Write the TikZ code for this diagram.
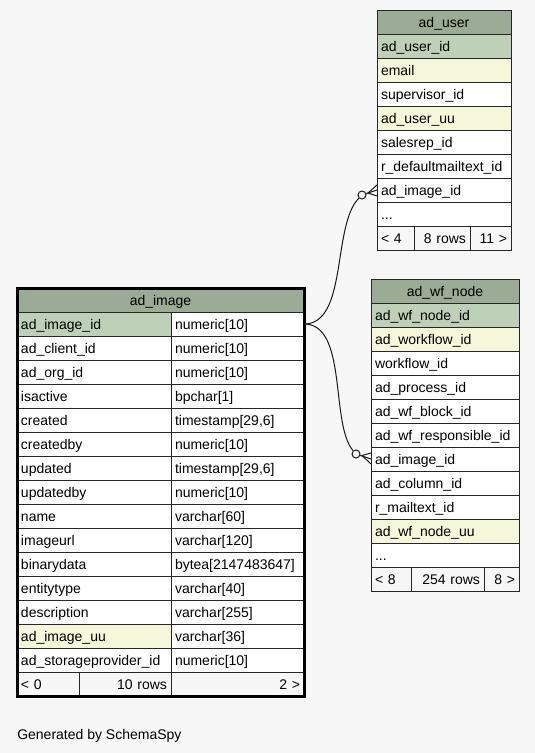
\documentclass[tikz,border=0pt]{standalone}
\usepackage{fontspec}
\setmainfont{Liberation Sans}
\usetikzlibrary{positioning, calc}

\definecolor{bgc}{HTML}{F7F7F7}
\definecolor{headc}{HTML}{9BAB96}
\definecolor{pkc}{HTML}{BED1B8}
\definecolor{idxc}{HTML}{F4F7DA}

\begin{document}
\begin{tikzpicture}[
        x=0.75pt, y=-0.75pt,
        font=\fontsize{10.5}{12}\selectfont,
        % Define Styles
        cell/.style={rectangle, draw=black!85, fill=white, line width=0.75pt, outer sep=0pt, inner xsep=3pt, inner ysep=0pt, minimum height=18pt, text height=9.5pt, text depth=2pt, align=left},
        head/.style={cell, fill=headc, align=center},
        pk/.style={cell, fill=pkc},
        idx/.style={cell, fill=idxc},
        foot/.style={cell, fill=bgc},
        ucol/.style={text width=94.5pt},
        wcol/.style={text width=105pt},
        kcol/.style={text width=109.5pt},
        tcol/.style={text width=93.75pt},
        link/.style={draw=black!90, line width=0.75pt},
        knob/.style={circle, draw=black!90, fill=bgc, line width=0.75pt, inner sep=0pt, minimum size=6pt}
    ]

    % --- CANVAS ---
    \fill[bgc] (0,0) rectangle (535,753);

    % --- AD_USER (top right) ---
    \node[head, ucol, anchor=north west] (uhead) at (377,10) {ad\_user};
    \node[pk, ucol, below=0pt of uhead] (uid) {ad\_user\_id};
    \node[idx, ucol, below=0pt of uid] (uemail) {email};
    \node[cell, ucol, below=0pt of uemail] (usup) {supervisor\_id};
    \node[idx, ucol, below=0pt of usup] (uuu) {ad\_user\_uu};
    \node[cell, ucol, below=0pt of uuu] (usales) {salesrep\_id};
    \node[cell, ucol, below=0pt of usales] (umail) {r\_defaultmailtext\_id};
    \node[cell, ucol, below=0pt of umail] (uimg) {ad\_image\_id};
    \node[cell, ucol, below=0pt of uimg] (umore) {...};
    \node[foot, text width=21.75pt, anchor=north west] (uf1) at (umore.south west) {< 4};
    \node[foot, text width=36pt, align=right, right=0pt of uf1] (uf2) {8 rows};
    \node[foot, text width=24.75pt, align=right, right=0pt of uf2] (uf3) {11 >};

    % --- AD_WF_NODE (right) ---
    \node[head, wcol, anchor=north west] (whead) at (371,279) {ad\_wf\_node};
    \node[pk, wcol, below=0pt of whead] (wid) {ad\_wf\_node\_id};
    \node[idx, wcol, below=0pt of wid] (wflow) {ad\_workflow\_id};
    \node[cell, wcol, below=0pt of wflow] (wwork) {workflow\_id};
    \node[cell, wcol, below=0pt of wwork] (wproc) {ad\_process\_id};
    \node[cell, wcol, below=0pt of wproc] (wblock) {ad\_wf\_block\_id};
    \node[cell, wcol, below=0pt of wblock] (wresp) {ad\_wf\_responsible\_id};
    \node[cell, wcol, below=0pt of wresp] (wimg) {ad\_image\_id};
    \node[cell, wcol, below=0pt of wimg] (wcol) {ad\_column\_id};
    \node[cell, wcol, below=0pt of wcol] (wmail) {r\_mailtext\_id};
    \node[idx, wcol, below=0pt of wmail] (wuu) {ad\_wf\_node\_uu};
    \node[cell, wcol, below=0pt of wuu] (wmore) {...};
    \node[foot, text width=24pt, anchor=north west] (wf1) at (wmore.south west) {< 8};
    \node[foot, text width=48.75pt, align=right, right=0pt of wf1] (wf2) {254 rows};
    \node[foot, text width=20.25pt, align=right, right=0pt of wf2] (wf3) {8 >};

    % --- AD_IMAGE (focus table, left) ---
    \node[head, text width=209.25pt, anchor=north west] (ihead) at (17,288) {ad\_image};
    \node[pk, kcol, anchor=north west] (iid) at (ihead.south west) {ad\_image\_id};
    \node[cell, tcol, right=0pt of iid] (iidt) {numeric[10]};
    \node[cell, kcol, below=0pt of iid] (iclient) {ad\_client\_id};
    \node[cell, tcol, right=0pt of iclient] (iclientt) {numeric[10]};
    \node[cell, kcol, below=0pt of iclient] (iorg) {ad\_org\_id};
    \node[cell, tcol, right=0pt of iorg] (iorgt) {numeric[10]};
    \node[cell, kcol, below=0pt of iorg] (iact) {isactive};
    \node[cell, tcol, right=0pt of iact] (iactt) {bpchar[1]};
    \node[cell, kcol, below=0pt of iact] (icr) {created};
    \node[cell, tcol, right=0pt of icr] (icrt) {timestamp[29,6]};
    \node[cell, kcol, below=0pt of icr] (icrby) {createdby};
    \node[cell, tcol, right=0pt of icrby] (icrbyt) {numeric[10]};
    \node[cell, kcol, below=0pt of icrby] (iup) {updated};
    \node[cell, tcol, right=0pt of iup] (iupt) {timestamp[29,6]};
    \node[cell, kcol, below=0pt of iup] (iupby) {updatedby};
    \node[cell, tcol, right=0pt of iupby] (iupbyt) {numeric[10]};
    \node[cell, kcol, below=0pt of iupby] (iname) {name};
    \node[cell, tcol, right=0pt of iname] (inamet) {varchar[60]};
    \node[cell, kcol, below=0pt of iname] (iurl) {imageurl};
    \node[cell, tcol, right=0pt of iurl] (iurlt) {varchar[120]};
    \node[cell, kcol, below=0pt of iurl] (ibin) {binarydata};
    \node[cell, tcol, right=0pt of ibin] (ibint) {bytea[2147483647]};
    \node[cell, kcol, below=0pt of ibin] (ient) {entitytype};
    \node[cell, tcol, right=0pt of ient] (ientt) {varchar[40]};
    \node[cell, kcol, below=0pt of ient] (idesc) {description};
    \node[cell, tcol, right=0pt of idesc] (idesct) {varchar[255]};
    \node[idx, kcol, below=0pt of idesc] (iuu) {ad\_image\_uu};
    \node[cell, tcol, right=0pt of iuu] (iuut) {varchar[36]};
    \node[cell, kcol, below=0pt of iuu] (istore) {ad\_storageprovider\_id};
    \node[cell, tcol, right=0pt of istore] (istoret) {numeric[10]};
    \node[foot, text width=40.5pt, anchor=north west] (if1) at (istore.south west) {< 0};
    \node[foot, text width=63pt, align=right, right=0pt of if1] (if2) {10 rows};
    \node[foot, text width=93.75pt, align=right, right=0pt of if2] (if3) {2 >};
    \draw[line width=2.25pt] (ihead.north west) rectangle (if3.south east);

    % --- FOREIGN KEYS (ad_image_id) ---
    \node[knob] (c1) at (362,195) {};
    \node[knob] (c2) at (356,454) {};
    \draw[link] (iidt.east) .. controls +(44,0) and +(-30,30) .. (c1);
    \draw[link] (iidt.east) .. controls +(44,0) and +(-26,-30) .. (c2);

    % crow's feet
    \draw[link] (c1) -- (uimg.west);
    \draw[link] ($(uimg.west)+(0,-5)$) -- ($(c1)+(6,-2)$) -- ($(uimg.west)+(0,6)$);
    \draw[link] (c2) -- (wimg.west);
    \draw[link] ($(wimg.west)+(0,-6)$) -- ($(c2)+(6,1.5)$) -- ($(wimg.west)+(0,5)$);

    % --- CAPTION ---
    \node[anchor=base west, inner sep=0pt] (gen) at (17,739) {Generated by SchemaSpy};

\end{tikzpicture}
\end{document}
